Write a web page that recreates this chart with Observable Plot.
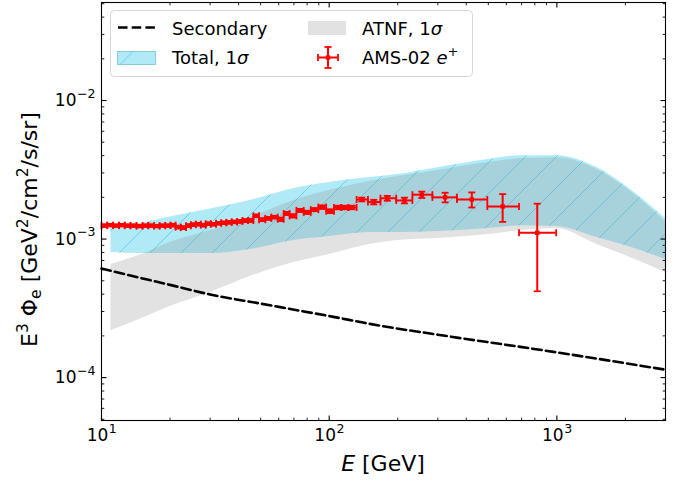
<!DOCTYPE html>
<html><head><meta charset="utf-8">
<script src="https://cdn.jsdelivr.net/npm/d3@7"></script>
<script src="https://cdn.jsdelivr.net/npm/@observablehq/plot@0.6"></script>
<style>
html,body{margin:0;padding:0;background:#fff;}
#chart{position:relative;width:678px;height:482px;}
svg{font-family:"DejaVu Sans",sans-serif;}
</style></head><body><div id="chart"></div>
<script>
// ---------- data ----------
const bandE   = [11, 15, 20, 30, 45, 70, 100, 150, 200, 300, 500, 700, 1000, 1500, 2000, 3000];
const totalLo = [7.99e-4, 7.86e-4, 7.86e-4, 7.86e-4, 8.40e-4, 9.75e-4, 1.042e-3, 1.115e-3, 1.115e-3, 1.133e-3, 1.19e-3, 1.25e-3, 1.23e-3, 1.025e-3, 8.97e-4, 7.11e-4];
const totalHi = [1.24e-3, 1.30e-3, 1.44e-3, 1.65e-3, 1.90e-3, 2.32e-3, 2.56e-3, 2.78e-3, 2.93e-3, 3.27e-3, 3.75e-3, 4.0e-3, 4.0e-3, 3.28e-3, 2.43e-3, 1.41e-3];
const atnfLo  = [2.18e-4, 2.67e-4, 3.26e-4, 4.11e-4, 5.36e-4, 6.76e-4, 7.73e-4, 9.12e-4, 9.75e-4, 1.008e-3, 1.077e-3, 1.151e-3, 1.19e-3, 9.12e-4, 7.60e-4, 5.73e-4];
const atnfHi  = [6.55e-4, 7.73e-4, 9.44e-4, 1.151e-3, 1.43e-3, 1.90e-3, 2.24e-3, 2.60e-3, 2.83e-3, 3.13e-3, 3.57e-3, 3.81e-3, 3.87e-3, 3.18e-3, 2.36e-3, 1.34e-3];

const secE    = [10, 13.4, 20, 30, 50, 100, 167, 300, 1000, 3000];
const secFlux = [6.13e-4, 5.45e-4, 4.67e-4, 3.98e-4, 3.42e-4, 2.78e-4, 2.37e-4, 2.04e-4, 1.52e-4, 1.14e-4];

const amsE = [10.3, 10.9, 11.6, 12.3, 13.0, 13.8, 14.7, 15.6, 16.5, 17.5, 18.5, 19.6, 20.6, 21.7, 22.9, 24.1, 25.3, 26.6, 28.0, 29.4, 31.0, 32.7, 34.4, 36.3, 38.3, 40.5, 42.8, 45.2, 47.7, 50.8, 54.0, 57.5, 61.3, 65.0, 69.0, 74.6, 80.1, 86.0, 93.2, 101, 109, 117, 126, 139, 157, 180, 214, 255, 323, 423, 578, 820];
const amsFlux = [1.25e-3, 1.26e-3, 1.25e-3, 1.26e-3, 1.25e-3, 1.25e-3, 1.24e-3, 1.25e-3, 1.25e-3, 1.24e-3, 1.25e-3, 1.25e-3, 1.26e-3, 1.22e-3, 1.21e-3, 1.25e-3, 1.27e-3, 1.28e-3, 1.26e-3, 1.29e-3, 1.28e-3, 1.30e-3, 1.31e-3, 1.32e-3, 1.33e-3, 1.34e-3, 1.36e-3, 1.36e-3, 1.47e-3, 1.38e-3, 1.41e-3, 1.44e-3, 1.39e-3, 1.53e-3, 1.47e-3, 1.61e-3, 1.56e-3, 1.63e-3, 1.70e-3, 1.59e-3, 1.69e-3, 1.69e-3, 1.69e-3, 1.93e-3, 1.85e-3, 1.97e-3, 1.90e-3, 2.09e-3, 2.00e-3, 1.93e-3, 1.72e-3, 1.11e-3];
const amsErr = [2e-5, 2e-5, 2e-5, 2e-5, 2e-5, 2e-5, 2e-5, 2e-5, 2e-5, 2e-5, 2e-5, 2e-5,
  2.5e-5, 2.5e-5, 2.5e-5, 2.5e-5, 2.5e-5, 2.5e-5, 2.5e-5, 2.5e-5, 2.5e-5, 2.5e-5, 2.5e-5, 2.5e-5, 2.5e-5,
  3e-5, 3e-5, 3e-5, 3e-5, 3e-5, 3e-5, 3e-5,
  4e-5, 4e-5, 4e-5, 4e-5, 4e-5, 4e-5,
  5e-5, 5e-5, 5e-5, 5e-5, 5e-5,
  6e-5, 7e-5, 8e-5, 9e-5, 1.1e-4, 1.6e-4, 2.4e-4, 3.9e-4, 6.9e-4];
const amsEdges = [10.0, 10.6, 11.25, 11.95, 12.65, 13.4, 14.25, 15.15, 16.05, 17.0, 18.0, 19.05, 20.1, 21.15, 22.3, 23.5, 24.7, 25.95, 27.3, 28.7, 30.2, 31.85, 33.55, 35.35, 37.3, 39.4, 41.6, 44.0, 46.45, 49.2, 52.4, 55.7, 59.4, 63.1, 67.0, 71.8, 77.3, 83.0, 89.6, 97.0, 105, 113, 121.5, 132, 148, 168, 197, 232, 284, 364, 495, 682, 993];

const xDomain = [10, 3000];
const yDomain = [4.9e-5, 5.1e-2];
const xMajor = [10, 100, 1000];
const xMajorExp = ["1", "2", "3"];
const xMinor = [20, 30, 40, 50, 60, 70, 80, 90, 200, 300, 400, 500, 600, 700, 800, 900, 2000, 3000];
const yMajor = [1e-4, 1e-3, 1e-2];
const yMajorExp = ["\u22124", "\u22123", "\u22122"];
const yMinor = [5e-5, 6e-5, 7e-5, 8e-5, 9e-5, 2e-4, 3e-4, 4e-4, 5e-4, 6e-4, 7e-4, 8e-4, 9e-4, 2e-3, 3e-3, 4e-3, 5e-3, 6e-3, 7e-3, 8e-3, 9e-3, 2e-2, 3e-2, 4e-2, 5e-2];

// ---------- tables ----------
const band = bandE.map((E, i) => ({E, tLo: totalLo[i], tHi: totalHi[i], aLo: atnfLo[i], aHi: atnfHi[i]}));
const sec = secE.map((E, i) => ({E, v: secFlux[i]}));
const ams = amsE.map((E, i) => ({E, v: amsFlux[i], err: amsErr[i], lo: amsEdges[i], hi: amsEdges[i + 1]}));

// ---------- custom symbols ----------
const rad = s => Math.sqrt(s / Math.PI);
const hline = {draw(c, s) { const r = rad(s); c.moveTo(-r, 0); c.lineTo(r, 0); }};
const vline = {draw(c, s) { const r = rad(s); c.moveTo(0, -r); c.lineTo(0, r); }};
const tUp = {draw(c, s) { const r = rad(s); c.moveTo(0, 0); c.lineTo(0, -r); }};
const tDown = {draw(c, s) { const r = rad(s); c.moveTo(0, 0); c.lineTo(0, r); }};
const tRight = {draw(c, s) { const r = rad(s); c.moveTo(0, 0); c.lineTo(r, 0); }};
const tLeft = {draw(c, s) { const r = rad(s); c.moveTo(0, 0); c.lineTo(-r, 0); }};

const RED = "#ff0000";
const curve = "monotone-x";
const DASH = "9.5,4.2";

function tickMarks(vals, len, w) {
  return [
    Plot.dot(vals, {x: d => d, y: () => yDomain[0], symbol: tUp, r: len, stroke: "black", strokeWidth: w, fill: "none"}),
    Plot.dot(vals, {x: d => d, y: () => yDomain[1], symbol: tDown, r: len, stroke: "black", strokeWidth: w, fill: "none"})
  ];
}
function tickMarksY(vals, len, w) {
  return [
    Plot.dot(vals, {x: () => xDomain[0], y: d => d, symbol: tRight, r: len, stroke: "black", strokeWidth: w, fill: "none"}),
    Plot.dot(vals, {x: () => xDomain[1], y: d => d, symbol: tLeft, r: len, stroke: "black", strokeWidth: w, fill: "none"})
  ];
}

const chart = Plot.plot({
  width: 678, height: 482,
  marginLeft: 101, marginRight: 13, marginTop: 2, marginBottom: 62,
  style: {fontFamily: "DejaVu Sans, sans-serif", background: "white", overflow: "visible"},
  x: {type: "log", domain: xDomain, axis: null},
  y: {type: "log", domain: yDomain, axis: null},
  marks: [
    Plot.areaY(band, {x: "E", y1: "tLo", y2: "tHi", fill: "#b0eaf7", curve}),
    Plot.areaY(band, {x: "E", y1: "tLo", y2: "tHi", fill: "url(#hatchT)", curve}),
    Plot.areaY(band, {x: "E", y1: "aLo", y2: "aHi", fill: "#8c8c8c", fillOpacity: 0.25, curve}),
    Plot.line(sec, {x: "E", y: "v", stroke: "black", strokeWidth: 2.6, strokeDasharray: DASH, curve}),
    Plot.ruleY(ams, {y: "v", x1: "lo", x2: "hi", stroke: RED, strokeWidth: 2}),
    Plot.ruleX(ams, {x: "E", y1: d => d.v - d.err, y2: d => d.v + d.err, stroke: RED, strokeWidth: 2}),
    Plot.dot(ams, {x: "E", y: d => d.v + d.err, symbol: hline, r: 3.5, stroke: RED, strokeWidth: 1.8, fill: "none"}),
    Plot.dot(ams, {x: "E", y: d => d.v - d.err, symbol: hline, r: 3.5, stroke: RED, strokeWidth: 1.8, fill: "none"}),
    Plot.dot(ams, {x: "lo", y: "v", symbol: vline, r: 3.5, stroke: RED, strokeWidth: 1.8, fill: "none"}),
    Plot.dot(ams, {x: "hi", y: "v", symbol: vline, r: 3.5, stroke: RED, strokeWidth: 1.8, fill: "none"}),
    Plot.dot(ams, {x: "E", y: "v", symbol: "square", r: 2.5, fill: RED, stroke: "none"}),
    Plot.frame({stroke: "black", strokeWidth: 1.1}),
    ...tickMarks(xMajor, 5, 1.1),
    ...tickMarks(xMinor, 2.8, 0.9),
    ...tickMarksY(yMajor, 5, 1.1),
    ...tickMarksY(yMinor, 2.8, 0.9),
    Plot.text(xMajor, {x: d => d, y: () => yDomain[0], text: () => "10", textAnchor: "end", dx: 6.8, dy: 15, fontSize: 17, fill: "black"}),
    Plot.text(xMajor, {x: d => d, y: () => yDomain[0], text: (d, i) => xMajorExp[i], textAnchor: "start", dx: 7.3, dy: 8, fontSize: 12.5, fill: "black"}),
    Plot.text(yMajor, {x: () => xDomain[0], y: d => d, text: () => "10", textAnchor: "end", dx: -25, dy: 0, fontSize: 17, fill: "black"}),
    Plot.text(yMajor, {x: () => xDomain[0], y: d => d, text: (d, i) => yMajorExp[i], textAnchor: "end", dx: -6, dy: -7, fontSize: 12.5, fill: "black"})
  ]
});

document.getElementById("chart").appendChild(chart);

// ---------- hatch pattern, axis titles, legend ----------
const svg = d3.select(chart);
const defs = svg.insert("defs", ":first-child");
const pat = defs.append("pattern").attr("id", "hatchT").attr("patternUnits", "userSpaceOnUse")
  .attr("width", 31).attr("height", 31);
pat.append("path").attr("d", "M0,31L31,0M-8,8L8,-8M23,39L39,23")
  .attr("stroke", "#6fcfea").attr("stroke-width", 1).attr("fill", "none");

// x title
const xt = svg.append("text").attr("x", 383).attr("y", 471).attr("text-anchor", "middle")
  .attr("font-size", 22).attr("fill", "black");
xt.append("tspan").attr("font-style", "italic").text("E");
xt.append("tspan").text(" [GeV]");

// y title
const yt = svg.append("text").attr("transform", "translate(37,229.5) rotate(-90)")
  .attr("text-anchor", "middle").attr("font-size", 22).attr("fill", "black");
function ts(txt, opt = {}) {
  const t = yt.append("tspan").text(txt);
  if (opt.dy) t.attr("dy", opt.dy);
  if (opt.small) t.attr("font-size", 15.5);
  return t;
}
ts("E"); ts("3", {dy: -9, small: true}); ts(" \u03A6", {dy: 9}); ts("e", {dy: 4, small: true});
ts(" [GeV", {dy: -4}); ts("2", {dy: -9, small: true}); ts("/cm", {dy: 9}); ts("2", {dy: -9, small: true}); ts("/s/sr]", {dy: 9});

// legend
const lg = svg.append("g").attr("text-anchor", "start");
lg.append("rect").attr("x", 110.5).attr("y", 10.5).attr("width", 362).attr("height", 66).attr("rx", 4)
  .attr("fill", "white").attr("fill-opacity", 0.8).attr("stroke", "#d6d6d6");
lg.append("line").attr("x1", 118).attr("x2", 156).attr("y1", 27.5).attr("y2", 27.5)
  .attr("stroke", "black").attr("stroke-width", 2.6).attr("stroke-dasharray", DASH);
lg.append("rect").attr("x", 117.5).attr("y", 51.5).attr("width", 38).attr("height", 13)
  .attr("fill", "#b0eaf7").attr("stroke", "#86cde0").attr("stroke-width", 1);
lg.append("line").attr("x1", 120).attr("y1", 64.5).attr("x2", 133).attr("y2", 51.5)
  .attr("stroke", "#6fcfea").attr("stroke-width", 1);
lg.append("rect").attr("x", 308).attr("y", 21).attr("width", 38).attr("height", 14)
  .attr("fill", "#8c8c8c").attr("fill-opacity", 0.25);
const ex = 328, ey = 57.5;
lg.append("line").attr("x1", ex - 10).attr("x2", ex + 10).attr("y1", ey).attr("y2", ey).attr("stroke", RED).attr("stroke-width", 2);
lg.append("line").attr("x1", ex).attr("x2", ex).attr("y1", ey - 10.5).attr("y2", ey + 10.5).attr("stroke", RED).attr("stroke-width", 2);
[[ex - 10, ey, 0, 3.5], [ex + 10, ey, 0, 3.5], [ex, ey - 10.5, 3.5, 0], [ex, ey + 10.5, 3.5, 0]].forEach(([x, y, a, b]) =>
  lg.append("line").attr("x1", x - a).attr("x2", x + a).attr("y1", y - b).attr("y2", y + b).attr("stroke", RED).attr("stroke-width", 1.8));
lg.append("rect").attr("x", ex - 2.2).attr("y", ey - 2.2).attr("width", 4.4).attr("height", 4.4).attr("fill", RED);

function ltext(x, y) {
  return lg.append("text").attr("x", x).attr("y", y).attr("font-size", 18).attr("fill", "black").attr("text-anchor", "start");
}
ltext(172, 34.5).text("Secondary");
let t2 = ltext(172, 64); t2.append("tspan").text("Total, 1"); t2.append("tspan").attr("font-style", "italic").text("\u03C3");
let t3 = ltext(362, 34.5); t3.append("tspan").text("ATNF, 1"); t3.append("tspan").attr("font-style", "italic").text("\u03C3");
let t4 = ltext(362, 64); t4.append("tspan").text("AMS-02 "); t4.append("tspan").attr("font-style", "italic").text("e");
t4.append("tspan").attr("font-size", 13).attr("dy", -8).text("+");
</script></body></html>
